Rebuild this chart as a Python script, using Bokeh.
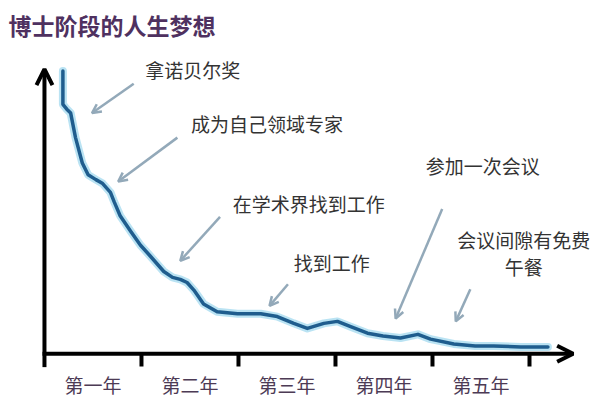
from bokeh.plotting import figure
from bokeh.models import Range1d, FixedTicker, Arrow, OpenHead, ColumnDataSource
from bokeh.core.properties import value
from bokeh.embed import file_html
from bokeh.resources import INLINE

# ---- data ----
title_text = "博士阶段的人生梦想"
year_labels = ["第一年", "第二年", "第三年", "第四年", "第五年"]
year_bounds = [1, 2, 3, 4, 5]

# dream level over time (years)
curve_x = [0.19, 0.19, 0.19, 0.23, 0.27, 0.32, 0.39, 0.45, 0.53, 0.60, 0.68, 0.72,
           0.78, 0.89, 0.99, 1.09, 1.23, 1.32, 1.40, 1.47, 1.54, 1.64, 1.78, 1.99,
           2.23, 2.40, 2.57, 2.71, 2.88, 3.02, 3.15, 3.33, 3.49, 3.67, 3.85, 3.98,
           4.22, 4.44, 4.63, 4.91, 5.19]
curve_y = [100.3, 94.4, 88.5, 86.8, 85.4, 76.7, 67.7, 63.5, 61.8, 60.4, 57.3, 53.8,
           49.0, 43.4, 38.5, 34.7, 29.2, 27.1, 26.4, 25.3, 22.6, 17.7, 14.9, 14.2,
           14.2, 13.2, 10.8, 9.0, 10.8, 11.5, 9.7, 7.3, 6.3, 5.6, 6.9, 5.2,
           3.5, 2.8, 2.8, 2.4, 2.4]

notes = ["拿诺贝尔奖", "成为自己领域专家", "在学术界找到工作", "找到工作", "参加一次会议"]
note_x = [1.04, 1.51, 1.94, 2.57, 3.93]
note_y = [100.7, 81.6, 53.5, 32.3, 66.7]

note2 = "会议间隙有免费\n午餐"
note2_x = 4.94
note2_y = 35.9

arrow_x0 = [0.92, 1.37, 1.81, 2.51, 4.10, 4.39]
arrow_y0 = [95.8, 76.7, 48.6, 24.7, 51.4, 22.9]
arrow_x1 = [0.49, 0.76, 1.40, 2.32, 3.62, 4.24]
arrow_y1 = [85.4, 61.1, 33.0, 17.0, 12.5, 11.5]

FONT = "Noto Sans CJK SC"

p = figure(width=600, height=400,
           min_border_left=30, min_border_right=0, min_border_top=44, min_border_bottom=28,
           x_range=Range1d(-0.144, 5.732), y_range=Range1d(-4.86, 109.03),
           output_backend="svg", toolbar_location=None, y_axis_location=None,
           background_fill_color="white", border_fill_color="white")
p.outline_line_color = None
p.grid.visible = False

p.title.text = title_text
p.title.text_font = FONT
p.title.text_font_size = "23px"
p.title.text_font_style = "bold"
p.title.text_color = "#4f3160"
p.title.align = "left"
p.title.offset = -22

# x axis: only labels
xa = p.xaxis[0]
xa.ticker = FixedTicker(ticks=[0.5, 1.5, 2.5, 3.5, 4.5])
xa.major_label_overrides = {0.5 + i: lab for i, lab in enumerate(year_labels)}
xa.axis_line_color = None
xa.major_tick_line_color = None
xa.minor_tick_line_color = None
xa.major_tick_out = 0
xa.major_tick_in = 0
xa.minor_tick_out = 0
xa.minor_tick_in = 0
xa.major_label_standoff = 3
xa.major_label_text_font = FONT
xa.major_label_text_font_size = "19px"
xa.major_label_text_color = "#4d3b55"

# curve with soft glow
src = ColumnDataSource(dict(x=curve_x, y=curve_y))
p.line("x", "y", source=src, line_width=8, line_color="#a9dcf0", line_alpha=0.8,
       line_join="round", line_cap="round")
p.line("x", "y", source=src, line_width=3.5, line_color="#1f5d8e",
       line_join="round", line_cap="round")

# axes with arrow heads
p.add_layout(Arrow(end=OpenHead(size=16, line_width=4, line_color="black"),
                   x_start=0, y_start=-4.8, x_end=0, y_end=101.0,
                   line_width=4, line_color="black"))
p.add_layout(Arrow(end=OpenHead(size=16, line_width=4, line_color="black"),
                   x_start=-0.02, y_start=0, x_end=5.45, y_end=0,
                   line_width=4, line_color="black"))
# year separator ticks
p.segment(x0=year_bounds, y0=[0] * len(year_bounds), x1=year_bounds,
          y1=[-4.5] * len(year_bounds), line_width=4, line_color="black")

# annotation arrows
for xs, ys, xe, ye in zip(arrow_x0, arrow_y0, arrow_x1, arrow_y1):
    p.add_layout(Arrow(end=OpenHead(size=9, line_width=2.5, line_color="#93a9b9"),
                       x_start=xs, y_start=ys, x_end=xe, y_end=ye,
                       line_width=2.5, line_color="#93a9b9"))

# annotation texts
p.text(x=note_x, y=note_y, text=notes, text_font=value(FONT), text_font_size="19px",
       text_color="#333333", text_align="left", text_baseline="middle")
p.text(x=[note2_x], y=[note2_y], text=[note2], text_font=value(FONT), text_font_size="19px",
       text_color="#333333", text_align="center", text_baseline="middle", text_line_height=1.0)

open("out.html", "w").write(file_html(p, INLINE))
